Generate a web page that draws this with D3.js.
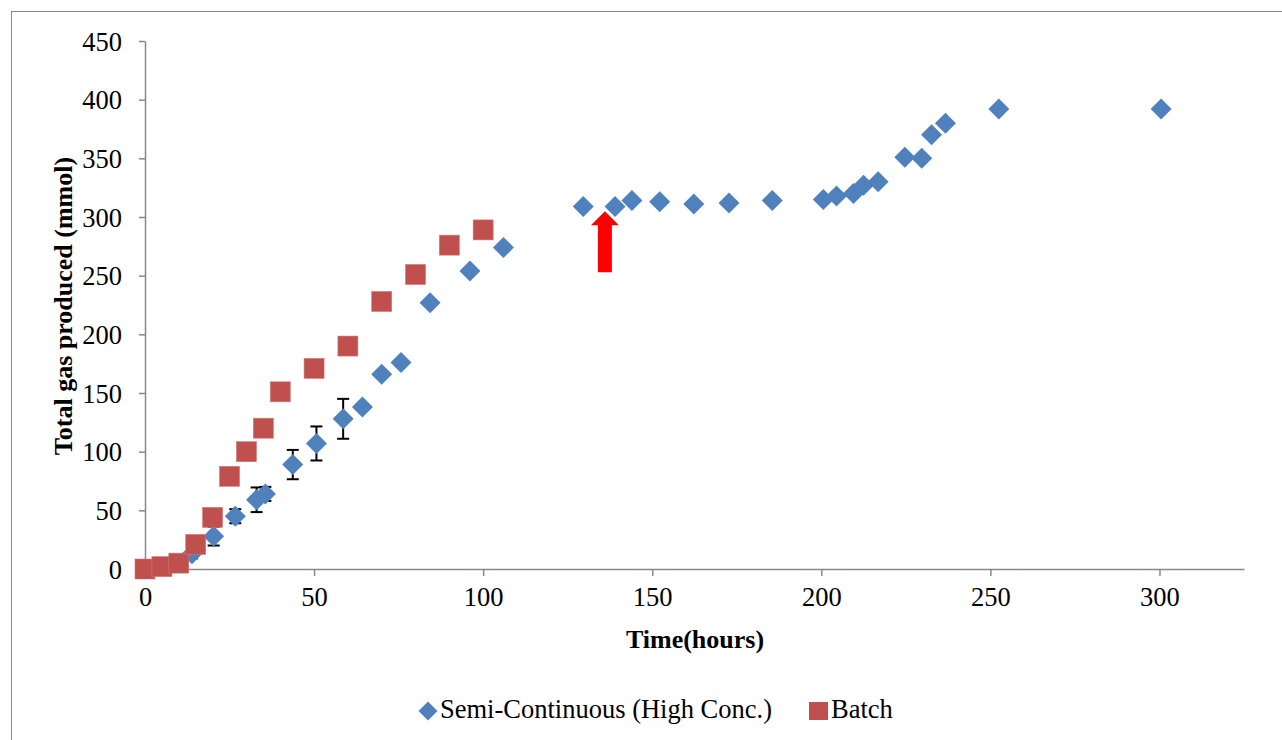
<!DOCTYPE html>
<html>
<head>
<meta charset="utf-8">
<script src="https://cdn.jsdelivr.net/npm/d3@7"></script>
<style>
  body { margin: 0; background: #fff; }
  svg text { font-family: "Liberation Serif", "Times New Roman", serif; }
</style>
</head>
<body>
<div id="graph"></div>
<script>
// semi-continuous run (high conc.) - hours / mmol / +- error
const semiTime = [0, 13.9, 20.3, 26.7, 33, 35.6, 43.7, 50.7, 58.6, 64.3, 70, 75.7, 84.3, 96.1, 106,
  129.6, 139, 144, 152.2, 162.3, 172.7, 185.5, 200.6, 204.5, 209.5, 212.5, 216.8, 224.7, 229.7,
  232.6, 236.7, 252.5, 300.5];
const semiGas = [0, 13, 28, 45, 59, 64, 89, 107, 128, 138, 166, 176, 227, 254, 274,
  309, 309, 314, 313, 311, 312, 314, 315, 318, 320, 327, 330, 351, 350,
  370, 380, 392, 392];
const semiErr = [0, 4, 8, 6, 10.5, 6, 12.5, 14.5, 17, 0, 0, 0, 0, 0, 0,
  0, 0, 0, 0, 0, 0, 0, 0, 0, 0, 0, 0, 0, 0,
  0, 0, 0, 0];

// batch run
const batchTime = [0, 5, 10, 15, 20, 25, 30, 35, 40, 50, 60, 70, 80, 90, 100];
const batchGas = [0, 2, 5, 21, 44, 79, 100, 120, 151, 171, 190, 228, 251, 276, 289];

const xTicks = [0, 50, 100, 150, 200, 250, 300];
const yTicks = [0, 50, 100, 150, 200, 250, 300, 350, 400, 450];
const seriesNames = ["Semi-Continuous (High Conc.)", "Batch"];

// arrow marking the feed point
const arrowAt = { time: 136, from: 253, to: 305 };

const width = 1282, height = 740;
const blue = "#4F81BD", red = "#C0504D", axisGrey = "#898989";
const serif = "'Liberation Serif', 'Times New Roman', serif";

const svg = d3.select("#graph").append("svg")
  .attr("width", width).attr("height", height)
  .attr("font-family", serif);

// outer chart frame
svg.append("rect")
  .attr("x", 11.5).attr("y", 11.5)
  .attr("width", 1300).attr("height", 760)
  .attr("fill", "none").attr("stroke", axisGrey).attr("stroke-width", 1);

const plot = { left: 145, right: 1244, top: 41, bottom: 569 };

const x = d3.scaleLinear().domain([0, 325]).range([plot.left, plot.right]);
const y = d3.scaleLinear().domain([0, 450]).range([plot.bottom, plot.top]);

// axes
const xAxis = d3.axisBottom(x).tickValues(xTicks).tickSize(7).tickPadding(11).tickSizeOuter(0);
const yAxis = d3.axisLeft(y).tickValues(yTicks).tickSize(6).tickPadding(17).tickSizeOuter(0);

const gx = svg.append("g").attr("transform", `translate(0,${plot.bottom})`).call(xAxis);
const gy = svg.append("g").attr("transform", `translate(${plot.left},0)`).call(yAxis);

[gx, gy].forEach((g) => {
  g.attr("font-family", serif).attr("font-size", 26.5);
  g.select(".domain").attr("stroke", axisGrey).attr("stroke-width", 1.5);
  g.selectAll(".tick line").attr("stroke", axisGrey).attr("stroke-width", 1.5);
  g.selectAll(".tick text").attr("fill", "#000");
});
gy.selectAll(".tick text").attr("dy", "0.34em");

// axis titles
svg.append("text")
  .attr("transform", `translate(72,${(plot.top + plot.bottom) / 2 + 1}) rotate(-90)`)
  .attr("text-anchor", "middle")
  .attr("font-size", 26).attr("font-weight", "bold")
  .text("Total gas produced (mmol)");

svg.append("text")
  .attr("x", 695).attr("y", 648)
  .attr("text-anchor", "middle")
  .attr("font-size", 26).attr("font-weight", "bold")
  .text("Time(hours)");

const semi = semiTime.map((t, i) => ({ t, g: semiGas[i], e: semiErr[i] }));
const batch = batchTime.map((t, i) => ({ t, g: batchGas[i] }));

// error bars (drawn below markers)
const errG = svg.append("g").attr("stroke", "#000").attr("stroke-width", 2);
semi.filter((d) => d.e > 0).forEach((d) => {
  errG.append("line").attr("x1", x(d.t)).attr("x2", x(d.t))
    .attr("y1", y(d.g - d.e)).attr("y2", y(d.g + d.e));
  [d.g - d.e, d.g + d.e].forEach((v) => {
    errG.append("line").attr("x1", x(d.t) - 6).attr("x2", x(d.t) + 6)
      .attr("y1", y(v)).attr("y2", y(v));
  });
});

const diamond = (cx, cy, r) => `M${cx},${cy - r}L${cx + r},${cy}L${cx},${cy + r}L${cx - r},${cy}Z`;

svg.append("g").selectAll("path")
  .data(semi)
  .enter()
  .append("path")
  .attr("d", (d) => diamond(x(d.t), y(d.g), 10.5))
  .attr("fill", blue);

svg.append("g").selectAll("rect")
  .data(batch)
  .enter()
  .append("rect")
  .attr("x", (d) => x(d.t) - 10)
  .attr("y", (d) => y(d.g) - 10)
  .attr("width", 20).attr("height", 20)
  .attr("fill", red)
  .attr("stroke", "#cf7a77").attr("stroke-width", 0.6);

// red arrow
const ax = x(arrowAt.time);
const headBase = y(arrowAt.to) + 14;
svg.append("path")
  .attr("d", `M${ax - 7},${y(arrowAt.from)}L${ax - 7},${headBase}L${ax - 14},${headBase}` +
    `L${ax},${y(arrowAt.to)}L${ax + 14},${headBase}L${ax + 7},${headBase}L${ax + 7},${y(arrowAt.from)}Z`)
  .attr("fill", "#FF0000");

// legend
const legend = svg.append("g").attr("font-size", 26.5);
legend.append("path").attr("d", diamond(428, 711, 9.5)).attr("fill", blue);
legend.append("text").attr("x", 440).attr("y", 718).text(seriesNames[0]);
legend.append("rect").attr("x", 809).attr("y", 702).attr("width", 19).attr("height", 18).attr("fill", red);
legend.append("text").attr("x", 831).attr("y", 718).text(seriesNames[1]);
</script>
</body>
</html>
